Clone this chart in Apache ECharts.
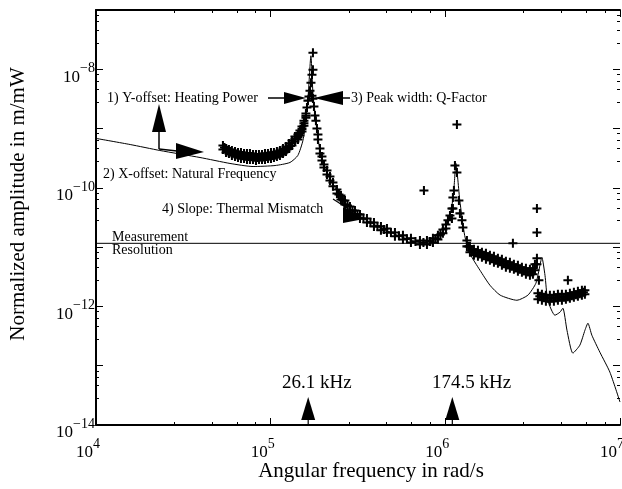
<!DOCTYPE html>
<html><head><meta charset="utf-8">
<script src="https://cdn.jsdelivr.net/npm/echarts/dist/echarts.min.js"></script>
<style>html,body{margin:0;padding:0;background:#fff}#c{width:622px;height:489px}</style>
</head><body><div id="c"></div>
<script>
// ---- data (angular frequency in rad/s, amplitude in m/mW) ----
const xRange = [1e4, 1e7];
const yRange = [1e-14, 1e-7];
const resolutionLevel = 1.16e-11;
const markerFreqsKHz = [26.1, 174.5];
const markerLabels = ['26.1 kHz', '174.5 kHz'];

const modelCurve = [
[1.01e4,6.79e-10],[1.57e4,5.38e-10],[2.32e4,4.27e-10],[3.94e4,3.25e-10],[5.85e4,2.58e-10],
[7.93e4,2.29e-10],[1.06e5,2.38e-10],[1.29e5,2.68e-10],[1.43e5,3.51e-10],[1.53e5,6.28e-10],
[1.59e5,1.36e-9],[1.64e5,3.60e-9],[1.70e5,1.69e-8],[1.75e5,3.60e-9],[1.865e5,7.33e-10],
[1.915e5,4.26e-10],[2.046e5,2.12e-10],[2.185e5,1.44e-10],[2.494e5,7.45e-11],[2.844e5,4.50e-11],
[3.245e5,3.30e-11],[4.223e5,2.15e-11],[5.498e5,1.52e-11],[7.155e5,1.20e-11],[8.718e5,1.35e-11],
[9.687e5,1.85e-11],[1.035e6,2.61e-11],[1.091e6,5.05e-11],[1.120e6,9.77e-11],[1.15e6,2.58e-10],
[1.21e6,6.14e-11],[1.29e6,1.58e-11],[1.38e6,7.87e-12],[1.58e6,4.06e-12],
[1.80e6,2.28e-12],[2.06e6,1.55e-12],[2.57e6,1.27e-12],[2.97e6,1.55e-12],[3.30e6,2.46e-12],
[3.48e6,4.94e-12],[3.57e6,6.73e-12],[3.72e6,3.35e-12],[3.86e6,1.27e-12],[4.24e6,7.11e-13],
[4.53e6,7.98e-13],[4.71e6,9.33e-13],[4.97e6,3.97e-13],[5.37e6,1.63e-13],[5.89e6,2.22e-13],
[6.30e6,3.97e-13],[6.55e6,5.21e-13],[6.90e6,3.27e-13],[7.67e6,1.69e-13],[8.75e6,7.80e-14],
[1.0e7,2.44e-14]
];

const measured = [
// below the first resonance
[5.33e4,5.17e-10],[5.33e4,4.43e-10],[5.55e4,4.61e-10],[5.55e4,3.94e-10],
[5.77e4,4.43e-10],[5.77e4,3.79e-10],[6.00e4,4.26e-10],[6.00e4,3.51e-10],
[6.25e4,4.10e-10],[6.25e4,3.38e-10],[6.50e4,3.94e-10],[6.50e4,3.25e-10],
[6.76e4,3.94e-10],[6.76e4,3.13e-10],[7.04e4,3.79e-10],[7.04e4,3.13e-10],
[7.32e4,3.79e-10],[7.32e4,3.01e-10],[7.61e4,3.79e-10],[7.61e4,3.01e-10],
[7.92e4,3.65e-10],[7.92e4,3.01e-10],[8.24e4,3.65e-10],[8.24e4,2.89e-10],
[8.57e4,3.65e-10],[8.57e4,3.01e-10],[8.92e4,3.65e-10],[8.92e4,3.01e-10],
[9.28e4,3.79e-10],[9.28e4,3.01e-10],[9.65e4,3.79e-10],[9.65e4,3.13e-10],
[1.004e5,3.94e-10],[1.004e5,3.13e-10],[1.044e5,3.94e-10],[1.044e5,3.25e-10],
[1.086e5,4.10e-10],[1.086e5,3.38e-10],[1.130e5,4.26e-10],[1.130e5,3.51e-10],
[1.176e5,4.61e-10],[1.176e5,3.79e-10],[1.223e5,4.98e-10],[1.223e5,4.10e-10],
[1.273e5,5.59e-10],[1.273e5,4.61e-10],[1.324e5,6.28e-10],[1.324e5,5.17e-10],
[1.377e5,7.33e-10],[1.377e5,6.04e-10],[1.433e5,7.93e-10],[1.433e5,6.53e-10],
[1.471e5,9.25e-10],[1.471e5,7.62e-10],[1.511e5,1.08e-9],[1.511e5,8.90e-10],
[1.551e5,1.36e-9],[1.551e5,1.12e-9],[1.592e5,1.79e-9],[1.592e5,1.53e-9],
[5.44e4,4.79e-10],[5.66e4,4.26e-10],[5.89e4,4.10e-10],[6.12e4,3.87e-10],[6.38e4,3.72e-10],
[6.63e4,3.58e-10],[6.90e4,3.51e-10],[7.18e4,3.44e-10],[7.47e4,3.38e-10],[7.76e4,3.38e-10],
[8.08e4,3.31e-10],[8.40e4,3.25e-10],[8.74e4,3.31e-10],[9.10e4,3.31e-10],[9.47e4,3.38e-10],
[9.84e4,3.44e-10],[1.024e5,3.51e-10],[1.065e5,3.58e-10],[1.108e5,3.72e-10],[1.153e5,3.87e-10],
[1.200e5,4.18e-10],[1.247e5,4.52e-10],[1.298e5,5.08e-10],[1.324e5,5.70e-10],[1.377e5,6.65e-10],
[1.433e5,7.20e-10],[1.471e5,8.40e-10],[1.511e5,9.80e-10],[1.551e5,1.23e-9],[1.592e5,1.65e-9],
// first resonance
[1.614e5,2.26e-9],[1.635e5,2.96e-9],[1.657e5,3.46e-9],[1.679e5,4.36e-9],[1.701e5,5.95e-9],
[1.746e5,1.90e-8],[1.746e5,9.85e-9],[1.724e5,8.11e-9],[1.724e5,3.59e-9],[1.746e5,3.20e-9],
[1.769e5,2.35e-9],[1.793e5,1.66e-9],[1.816e5,1.36e-9],[1.841e5,1.00e-9],
[1.865e5,7.93e-10],[1.865e5,6.53e-10],[1.915e5,4.61e-10],[1.915e5,3.79e-10],
[1.966e5,3.38e-10],[1.966e5,2.89e-10],[2.019e5,2.48e-10],[2.019e5,2.20e-10],
[2.101e5,1.96e-10],[2.101e5,1.68e-10],[2.185e5,1.56e-10],[2.185e5,1.33e-10],
[2.273e5,1.23e-10],[2.273e5,1.06e-10],[2.396e5,9.40e-11],[2.396e5,8.05e-11],
[2.526e5,7.45e-11],[2.526e5,6.38e-11],[2.663e5,6.14e-11],[2.663e5,5.25e-11],
[2.844e5,4.86e-11],[2.844e5,4.16e-11],[3.038e5,4.16e-11],[3.038e5,3.57e-11],
[3.245e5,3.57e-11],[3.245e5,3.05e-11],[3.558e5,3.05e-11],[3.558e5,2.61e-11],
[3.902e5,2.61e-11],[3.902e5,2.24e-11],[4.279e5,2.24e-11],[4.279e5,1.92e-11],
[4.632e5,2.07e-11],[4.632e5,1.77e-11],[5.146e5,1.77e-11],[5.146e5,1.52e-11],
[5.719e5,1.58e-11],[5.719e5,1.35e-11],[6.355e5,1.41e-11],[6.355e5,1.20e-11],
[7.155e5,1.30e-11],[7.155e5,1.11e-11],[7.848e5,1.30e-11],[7.848e5,1.11e-11],
[8.492e5,1.41e-11],[8.492e5,1.20e-11],[9.070e5,1.58e-11],[9.070e5,1.35e-11],
[9.687e5,1.99e-11],[9.687e5,1.71e-11],[1.008e6,2.42e-11],[1.008e6,2.07e-11],
[2.460e5,7.74e-11],[2.593e5,6.14e-11],[2.752e5,5.05e-11],[2.939e5,4.16e-11],[3.139e5,3.57e-11],
[3.398e5,3.05e-11],[3.726e5,2.61e-11],[4.086e5,2.24e-11],[4.452e5,1.99e-11],[4.882e5,1.77e-11],
[5.426e5,1.55e-11],[6.029e5,1.38e-11],[6.744e5,1.25e-11],[7.492e5,1.20e-11],[8.163e5,1.25e-11],
[8.776e5,1.38e-11],[9.374e5,1.64e-11],
// second resonance
[1.035e6,2.83e-11],[1.063e6,3.43e-11],[1.091e6,4.50e-11],[1.091e6,3.05e-11],
[1.105e6,6.89e-11],[1.105e6,4.50e-11],[1.120e6,9.04e-11],[1.135e6,2.38e-10],
[1.165e6,1.82e-10],[1.196e6,6.14e-11],[1.212e6,3.71e-11],[1.245e6,2.83e-11],[1.261e6,2.15e-11],
// upper plateau
[1.329e6,1.30e-11],[1.329e6,1.03e-11],[1.383e6,1.03e-11],[1.383e6,8.18e-12],
[1.458e6,9.18e-12],[1.458e6,7.28e-12],[1.537e6,8.83e-12],[1.537e6,7.00e-12],
[1.620e6,8.18e-12],[1.620e6,6.73e-12],[1.708e6,7.87e-12],[1.708e6,6.23e-12],
[1.800e6,7.28e-12],[1.800e6,6.00e-12],[1.898e6,7.00e-12],[1.898e6,5.55e-12],
[2.000e6,6.48e-12],[2.000e6,5.33e-12],[2.108e6,6.23e-12],[2.108e6,4.94e-12],
[2.222e6,5.77e-12],[2.222e6,4.57e-12],[2.342e6,5.55e-12],[2.342e6,4.40e-12],
[2.469e6,5.13e-12],[2.469e6,4.23e-12],[2.603e6,4.94e-12],[2.603e6,3.91e-12],
[2.744e6,4.57e-12],[2.744e6,3.77e-12],[2.893e6,4.40e-12],[2.893e6,3.48e-12],
[3.050e6,4.23e-12],[3.050e6,3.35e-12],[3.173e6,4.40e-12],[3.173e6,3.48e-12],
[3.258e6,5.13e-12],[3.258e6,4.06e-12],[3.345e6,6.48e-12],[3.345e6,5.13e-12],
[1.365e6,1.03e-11],[1.420e6,8.66e-12],[1.497e6,8.02e-12],[1.578e6,7.71e-12],[1.663e6,7.28e-12],
[1.753e6,6.87e-12],[1.848e6,6.48e-12],[1.948e6,6.00e-12],[2.053e6,5.77e-12],[2.164e6,5.33e-12],
[2.282e6,5.04e-12],[2.405e6,4.75e-12],[2.535e6,4.48e-12],[2.673e6,4.23e-12],[2.817e6,3.99e-12],
[2.970e6,3.84e-12],[3.110e6,3.84e-12],
[3.434e6,2.76e-12],
// lower plateau
[3.388e6,1.67e-12],[3.388e6,1.32e-12],[3.572e6,1.61e-12],[3.572e6,1.27e-12],
[3.765e6,1.55e-12],[3.765e6,1.22e-12],[3.969e6,1.55e-12],[3.969e6,1.22e-12],
[4.184e6,1.55e-12],[4.184e6,1.22e-12],[4.411e6,1.61e-12],[4.411e6,1.27e-12],
[4.650e6,1.61e-12],[4.650e6,1.27e-12],[4.901e6,1.61e-12],[4.901e6,1.32e-12],
[5.166e6,1.67e-12],[5.166e6,1.37e-12],[5.445e6,1.73e-12],[5.445e6,1.43e-12],
[5.741e6,1.80e-12],[5.741e6,1.48e-12],[6.052e6,1.87e-12],[6.052e6,1.55e-12],
[6.295e6,1.87e-12],[6.295e6,1.61e-12],
[3.475e6,1.48e-12],[3.667e6,1.43e-12],[3.864e6,1.37e-12],[4.076e6,1.37e-12],[4.295e6,1.40e-12],
[4.529e6,1.43e-12],[4.774e6,1.43e-12],[5.031e6,1.46e-12],[5.304e6,1.52e-12],[5.591e6,1.58e-12],
[5.888e6,1.64e-12],[6.173e6,1.73e-12]
];
const outliers = [
[1.165e6,1.17e-9],[7.542e5,9.04e-11],[3.345e6,4.50e-11],[3.345e6,1.77e-11],
[2.437e6,1.16e-11],[5.031e6,2.76e-12]
];

// ---- styling ----
const F = '"Liberation Serif","Times New Roman",serif';
const BLACK = '#000';
const plusPath = 'path://M0,3.1H3.1V0H4.9V3.1H8V4.9H4.9V8H3.1V4.9H0Z';
const richLab = {
  b: {fontSize: 17, fontFamily: F, color: BLACK},
  s: {fontSize: 14, fontFamily: F, color: BLACK, padding: [0, 0, 18, 0]}
};
function expLabel(v, skipOdd) {
  const e = Math.round(Math.log10(v));
  if (skipOdd && e % 2 !== 0) return '';
  return '{b|10}{s|' + (e < 0 ? '\u2212' + (-e) : e) + '}';
}
function baseAxis(extra) {
  return Object.assign({
    type: 'log', logBase: 10,
    axisLine: {show: true, onZero: false, lineStyle: {color: BLACK, width: 2}},
    axisTick: {show: true, inside: true, length: 7, lineStyle: {color: BLACK, width: 1}},
    minorTick: {show: true, splitNumber: 5, length: 3, lineStyle: {color: BLACK, width: 1}},
    splitLine: {show: false}, minorSplitLine: {show: false}
  }, extra);
}

const chart = echarts.init(document.getElementById('c'));
chart.setOption({
  animation: false,
  backgroundColor: '#fff',
  grid: {left: 96, right: 2, top: 10, bottom: 64, containLabel: false, outerBoundsMode: 'none'},
  xAxis: [
    baseAxis({min: xRange[0], max: xRange[1], splitNumber: 3, position: 'bottom',
      axisLabel: {margin: 12, formatter: v => expLabel(v, false), rich: richLab, padding: [0, 16, 0, 0]}}),
    baseAxis({min: xRange[0], max: xRange[1], splitNumber: 3, position: 'top', axisLabel: {show: false}})
  ],
  yAxis: [
    baseAxis({min: yRange[0], max: yRange[1], splitNumber: 7, position: 'left',
      axisLabel: {margin: 1, formatter: v => expLabel(v, true), rich: richLab, padding: [16, 0, 0, 0]}}),
    baseAxis({min: yRange[0], max: yRange[1], splitNumber: 7, position: 'right',
      axisLine: {show: false}, axisLabel: {show: false}})
  ],
  series: [
    {type: 'line', name: 'resolution', data: [[xRange[0], resolutionLevel], [xRange[1], resolutionLevel]],
      showSymbol: false, lineStyle: {color: BLACK, width: 1}, silent: true, z: 1},
    {type: 'line', name: 'model', data: modelCurve, showSymbol: false, smooth: 0.2,
      lineStyle: {color: BLACK, width: 1}, z: 2},
    {type: 'scatter', name: 'measured', data: measured, symbol: plusPath, symbolSize: 9,
      itemStyle: {color: BLACK, opacity: 1}, z: 3},
    {type: 'scatter', name: 'outliers', data: outliers, symbol: plusPath, symbolSize: 9,
      itemStyle: {color: BLACK, opacity: 1}, z: 3}
  ]
});

// ---- annotations ----
const g = [];
function txt(text, x, y, size, align, extra) {
  g.push(Object.assign({type: 'text', x: x, y: y, silent: true,
    style: {text: text, font: size + 'px ' + F, fill: BLACK, align: align || 'left', verticalAlign: 'middle'}}, extra || {}));
}
function poly(points) { g.push({type: 'polygon', silent: true, shape: {points: points}, style: {fill: BLACK}}); }
function seg(x1, y1, x2, y2, w) { g.push({type: 'line', silent: true, shape: {x1, y1, x2, y2}, style: {stroke: BLACK, lineWidth: w || 1.5}}); }

txt('Normalized amplitude in m/mW', 18, 204, 21, 'center', {rotation: Math.PI / 2});
txt('Angular frequency in rad/s', 371, 471, 21, 'center');

txt('1) Y-offset: Heating Power', 107, 98, 14);
seg(268, 98, 285, 98); poly([[284, 92], [284, 104], [306, 98]]);
txt('3) Peak width: Q-Factor', 351, 98, 14);
seg(342, 98, 350, 98); poly([[343, 91], [343, 105], [314, 98]]);
seg(159, 132, 159, 149); poly([[152, 132], [166, 132], [159, 104]]);
seg(159, 149, 177, 151); poly([[176, 143], [176, 159], [204, 152]]);
txt('2) X-offset: Natural Frequency', 103, 174, 14);
txt('4) Slope: Thermal Mismatch', 162, 209, 14);
seg(333, 199, 364, 219, 1.2); poly([[343, 207], [343, 223], [364, 219]]);
txt('Measurement', 112, 237, 14);
txt('Resolution', 112, 250, 14);

const yBottom = chart.convertToPixel({yAxisIndex: 0}, yRange[0]);
const labelLeft = [282, 432];
markerFreqsKHz.forEach((f, i) => {
  const px = chart.convertToPixel({xAxisIndex: 0}, 2 * Math.PI * f * 1000);
  poly([[px - 7, yBottom - 5], [px + 7, yBottom - 5], [px, yBottom - 28]]);
  seg(px, yBottom - 6, px, yBottom, 1.2);
  txt(markerLabels[i], labelLeft[i], 383, 19);
});
chart.setOption({graphic: g});
</script></body></html>
